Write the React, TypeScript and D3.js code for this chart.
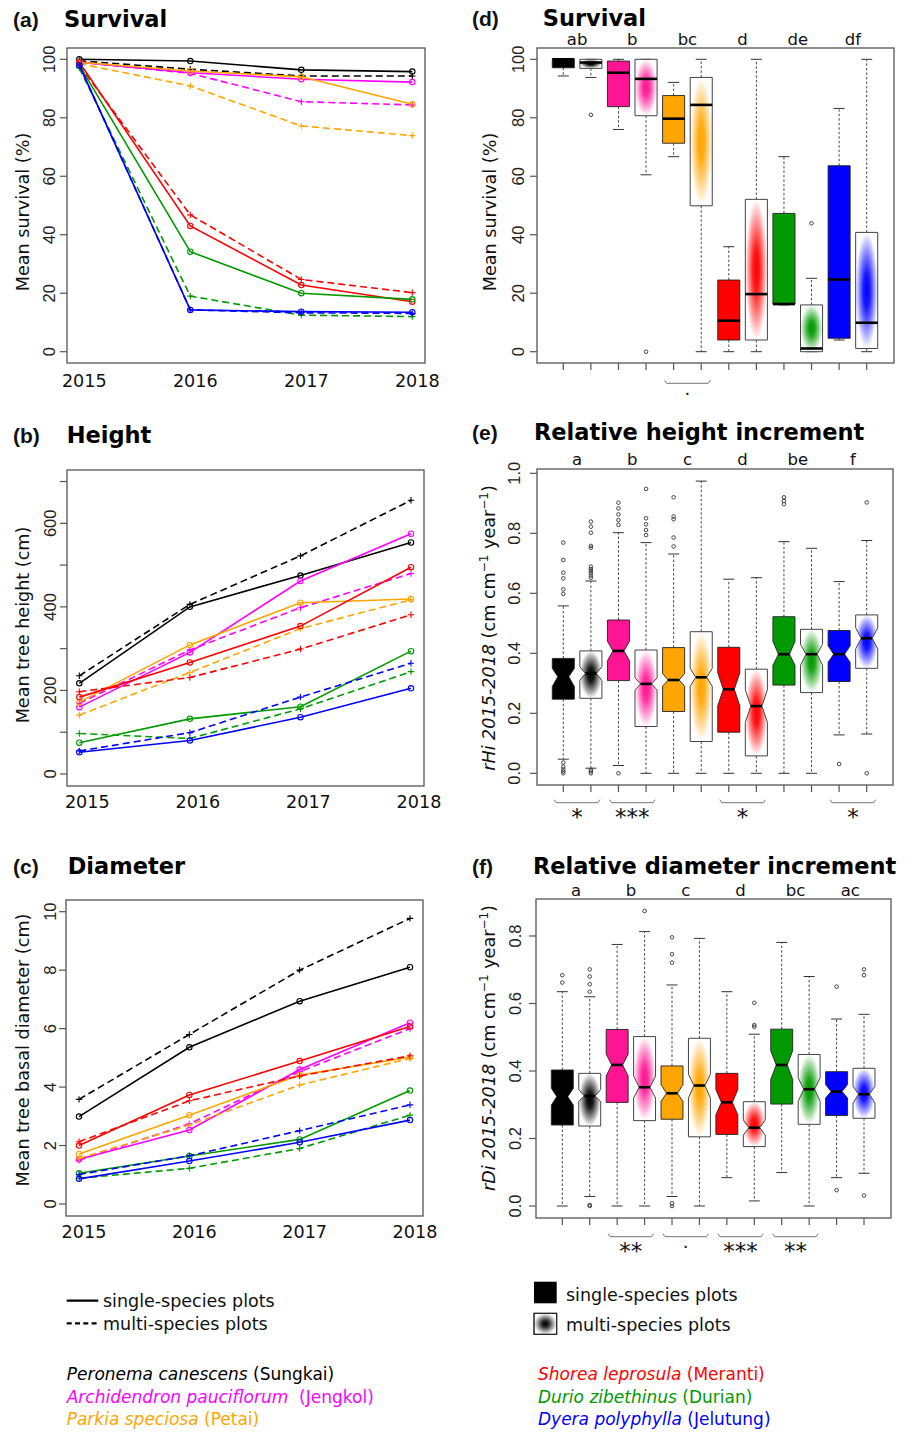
import React from "react";
import * as d3 from "d3";

// ---------------- DATA ----------------
const years = [2015, 2016, 2017, 2018];
const speciesLatin = ["Peronema canescens", "Archidendron pauciflorum", "Parkia speciosa", "Shorea leprosula", "Durio zibethinus", "Dyera polyphylla"];
const speciesCommon = [" (Sungkai)", "  (Jengkol)", " (Petai)", " (Meranti)", " (Durian)", " (Jelutung)"];
const lineColors = ["#000000", "#FF00FF", "#FFA500", "#FF0000", "#009900", "#0000FF"];
const boxColors = ["#000000", "#FF1493", "#FFA500", "#FF0000", "#009900", "#0000FF"];

// (a) survival %, per species, years 2015-2018
const survivalSingle = [
  [100, 99.4, 96.4, 95.8],
  [99, 95.4, 93.2, 92.2],
  [99, 96, 94, 84.6],
  [99, 43, 22.8, 17.1],
  [98, 34.2, 20, 17.9],
  [98, 14.3, 13.7, 13.5],
];
const survivalMulti = [
  [99.5, 96.6, 94.3, 94.3],
  [99, 95.2, 85.5, 84.4],
  [98.5, 90.9, 77.2, 73.9],
  [98, 46.8, 24.7, 20.2],
  [97, 19, 12.5, 12],
  [98, 14.3, 13.3, 13.1],
];
// (b) height cm
const heightSingle = [
  [217, 400, 475, 554],
  [160, 291, 462, 575],
  [172, 309, 410, 419],
  [184, 267, 354, 495],
  [75, 132, 161, 294],
  [52, 80, 136, 205],
];
const heightMulti = [
  [235, 406, 522, 655],
  [169, 297, 398, 480],
  [141, 243, 348, 417],
  [197, 231, 299, 381],
  [97, 85, 156, 245],
  [55, 99, 184, 265],
];
// (c) diameter cm
const diameterSingle = [
  [2.99, 5.36, 6.94, 8.1],
  [1.53, 2.53, 4.6, 6.2],
  [1.71, 3.04, 4.41, 5.02],
  [2.0, 3.73, 4.89, 6.07],
  [1.05, 1.64, 2.21, 3.88],
  [0.86, 1.47, 2.11, 2.87],
];
const diameterMulti = [
  [3.58, 5.8, 8.0, 9.77],
  [1.5, 2.74, 4.53, 6.0],
  [1.56, 2.7, 4.07, 4.98],
  [2.13, 3.53, 4.38, 5.07],
  [0.88, 1.22, 1.9, 3.04],
  [1.01, 1.65, 2.51, 3.39],
];

// box stats: [lowWhisker, q1, median, q3, highWhisker]; order: species x (single, multi)
const survivalBoxes = [
  [94.3, 97.1, 100, 100, 100],
  [93.8, 96.9, 98.9, 100, 100],
  [76, 83.8, 95.4, 99.4, 100],
  [60.5, 80.7, 93.3, 100, 100],
  [66.7, 71.3, 79.7, 87.6, 92.1],
  [0, 49.9, 84.4, 93.8, 100],
  [0, 4, 10.6, 24.5, 35.9],
  [0, 4, 19.7, 52.1, 100],
  [16, 16.3, 16.3, 47.3, 66.7],
  [0, 0, 1.1, 16, 25.1],
  [4, 4.6, 24.7, 63.6, 83.2],
  [0, 1.1, 9.9, 40.8, 100],
];
const survivalOutliers = [[], [81], [], [0], [], [], [], [], [], [43.9], [], []];

const rhiBoxes = [
  [0.047, 0.247, 0.322, 0.383, 0.558],
  [0.017, 0.25, 0.333, 0.408, 0.641],
  [0.026, 0.309, 0.408, 0.511, 0.802],
  [0, 0.156, 0.298, 0.411, 0.769],
  [0, 0.206, 0.311, 0.419, 0.731],
  [0, 0.106, 0.32, 0.472, 0.974],
  [0, 0.137, 0.28, 0.42, 0.647],
  [0, 0.058, 0.224, 0.347, 0.652],
  [0, 0.294, 0.397, 0.522, 0.772],
  [0, 0.269, 0.397, 0.48, 0.75],
  [0.128, 0.306, 0.397, 0.476, 0.639],
  [0.131, 0.35, 0.45, 0.528, 0.776],
];
const rhiNotches = [
  [0.289, 0.35], [0.31, 0.355], [0.375, 0.44], [0.278, 0.318], [0.29, 0.333], [0.29, 0.35],
  [0.225, 0.335], [0.17, 0.278], [0.36, 0.44], [0.36, 0.43], [0.37, 0.425], [0.415, 0.485],
];
const rhiOutliers = [
  [0.769, 0.711, 0.669, 0.65, 0.613, 0.598, 0.036, 0.022, 0.013, 0.006, 0],
  [0.839, 0.822, 0.802, 0.758, 0.752, 0.689, 0.681, 0.674, 0.667, 0.659, 0.652, 0.011, 0.006, 0],
  [0.902, 0.883, 0.863, 0.844, 0.828, 0],
  [0.948, 0.85, 0.83, 0.811, 0.794],
  [0.92, 0.856, 0.847, 0.786, 0.756],
  [],
  [],
  [],
  [0.92, 0.908, 0.897],
  [],
  [0.031],
  [0.903, 0],
];

const rdiBoxes = [
  [0, 0.24, 0.324, 0.403, 0.635],
  [0.028, 0.237, 0.326, 0.393, 0.62],
  [0, 0.307, 0.418, 0.523, 0.775],
  [0, 0.253, 0.352, 0.502, 0.813],
  [0.028, 0.257, 0.334, 0.415, 0.655],
  [0, 0.205, 0.357, 0.497, 0.793],
  [0.084, 0.212, 0.307, 0.393, 0.635],
  [0.015, 0.176, 0.232, 0.309, 0.509],
  [0.099, 0.302, 0.418, 0.524, 0.781],
  [0, 0.242, 0.346, 0.449, 0.68],
  [0.084, 0.268, 0.339, 0.398, 0.554],
  [0.097, 0.26, 0.331, 0.408, 0.568],
];
const rdiNotches = [
  [0.299, 0.349], [0.31, 0.345], [0.385, 0.45], [0.32, 0.385], [0.31, 0.36], [0.32, 0.39],
  [0.27, 0.345], [0.21, 0.255], [0.375, 0.46], [0.31, 0.38], [0.32, 0.36], [0.305, 0.355],
];
const rdiOutliers = [
  [0.684, 0.662],
  [0.701, 0.68, 0.657, 0.635, 0.003, 0],
  [],
  [0.874],
  [0.796, 0.746, 0.721, 0.008, 0],
  [],
  [],
  [0.602, 0.536, 0.531],
  [],
  [],
  [0.65, 0.047],
  [0.701, 0.684, 0.031],
];

const survivalLetters = ["ab", "b", "bc", "d", "de", "df"];
const heightLetters = ["a", "b", "c", "d", "be", "f"];
const diameterLetters = ["a", "b", "c", "d", "bc", "ac"];

const survivalSig = [{ pair: 2, label: "." }];
const heightSig = [{ pair: 0, label: "*" }, { pair: 1, label: "***" }, { pair: 3, label: "*" }, { pair: 5, label: "*" }];
const diameterSig = [{ pair: 1, label: "**" }, { pair: 2, label: "." }, { pair: 3, label: "***" }, { pair: 4, label: "**" }];

const survivalTicks = [0, 20, 40, 60, 80, 100];
const heightTicks = [0, 100, 200, 300, 400, 500, 600, 700];
const heightTickLabels = [0, 200, 400, 600];
const diameterTicks = [0, 2, 4, 6, 8, 10];
const rhiTicks = [0, 0.2, 0.4, 0.6, 0.8, 1.0];
const rdiTicks = [0, 0.2, 0.4, 0.6, 0.8];

// ---------------- STYLE ----------------
const FONT = "'DejaVu Sans', Verdana, sans-serif";
const NARROW = "'Liberation Sans', Arial, sans-serif";
const FRAME = "#555";

type Frame = { l: number; r: number; t: number; b: number };

function YTitleRHi({ x, y, sym }: { x: number; y: number; sym: string }) {
  return (
    <text transform={`translate(${x},${y}) rotate(-90)`} textAnchor="middle" fontFamily={FONT} fontSize={17.6} fill="#111">
      <tspan fontStyle="italic">{sym} 2015-2018</tspan>
      <tspan> (cm cm</tspan>
      <tspan fontSize={12} dy={-7}>−1</tspan>
      <tspan dy={7}> year</tspan>
      <tspan fontSize={12} dy={-7}>−1</tspan>
      <tspan dy={7}>)</tspan>
    </text>
  );
}

function LinePanel(props: {
  frame: Frame; xRange: [number, number]; yDomain: [number, number]; yRange: [number, number];
  ticks: number[]; tickLabels: number[]; single: number[][]; multi: number[][];
  labelShift: number; labelBaseline: number; tickLabelX: number; yTitle: string; yTitleX: number; yTitleY: number;
}) {
  const { frame: f } = props;
  const x = d3.scaleLinear().domain([2015, 2018]).range(props.xRange);
  const y = d3.scaleLinear().domain(props.yDomain).range(props.yRange);
  const line = d3.line<number>().x((_, i) => x(years[i])).y((v) => y(v));
  return (
    <g>
      <rect x={f.l} y={f.t} width={f.r - f.l} height={f.b - f.t} fill="none" stroke={FRAME} strokeWidth={1.3} />
      {props.ticks.map((t) => (
        <line key={"t" + t} x1={f.l - 7} x2={f.l} y1={y(t)} y2={y(t)} stroke={FRAME} strokeWidth={1.2} />
      ))}
      {props.tickLabels.map((t) => (
        <text key={"l" + t} transform={`translate(${props.tickLabelX},${y(t)}) rotate(-90)`} textAnchor="middle" fontFamily={NARROW} fontSize={16.5} fill="#222">{t}</text>
      ))}
      {years.map((yr) => (
        <text key={yr} x={x(yr) + props.labelShift} y={props.labelBaseline} textAnchor="middle" fontFamily={FONT} fontSize={17.6} fill="#111">{yr}</text>
      ))}
      <text transform={`translate(${props.yTitleX},${props.yTitleY}) rotate(-90)`} textAnchor="middle" fontFamily={FONT} fontSize={17.6} fill="#111">{props.yTitle}</text>
      {props.single.map((s, i) => (
        <g key={"s" + i}>
          <path d={line(props.multi[i]) || ""} fill="none" stroke={lineColors[i]} strokeWidth={1.6} strokeDasharray="7,4" />
          <path d={line(s) || ""} fill="none" stroke={lineColors[i]} strokeWidth={1.6} />
          {s.map((v, j) => (
            <circle key={j} cx={x(years[j])} cy={y(v)} r={2.7} fill="none" stroke={lineColors[i]} strokeWidth={1.1} />
          ))}
          {props.multi[i].map((v, j) => (
            <path key={"p" + j} d={`M${x(years[j]) - 3.2},${y(v)}h6.4M${x(years[j])},${y(v) - 3.2}v6.4`} stroke={lineColors[i]} strokeWidth={1.1} />
          ))}
        </g>
      ))}
    </g>
  );
}

function BoxPanel(props: {
  frame: Frame; xRange: [number, number]; yDomain: [number, number]; yRange: [number, number];
  ticks: number[]; fmt: (v: number) => string; boxes: number[][]; notches?: number[][]; outliers: number[][];
  letters: string[]; letterY: number; sig: { pair: number; label: string }[]; bracketY: number; sigY: number;
  tickLabelX: number; gid: string;
}) {
  const { frame: f } = props;
  const x = d3.scaleLinear().domain([1, 12]).range(props.xRange);
  const y = d3.scaleLinear().domain(props.yDomain).range(props.yRange);
  const step = x(2) - x(1);
  const hw = step * 0.4;
  return (
    <g>
      <defs>
        {boxColors.map((c, i) => (
          <radialGradient key={i} id={`${props.gid}-${i}`} cx="0.5" cy="0.5" r="0.5">
            <stop offset="0" stopColor={c} stopOpacity={1} />
            <stop offset="0.3" stopColor={c} stopOpacity={0.9} />
            <stop offset="0.7" stopColor={c} stopOpacity={0.4} />
            <stop offset="1" stopColor={c} stopOpacity={0} />
          </radialGradient>
        ))}
      </defs>
      <rect x={f.l} y={f.t} width={f.r - f.l} height={f.b - f.t} fill="none" stroke={FRAME} strokeWidth={1.3} />
      {props.ticks.map((t) => (
        <g key={"t" + t}>
          <line x1={f.l - 7} x2={f.l} y1={y(t)} y2={y(t)} stroke={FRAME} strokeWidth={1.2} />
          <text transform={`translate(${props.tickLabelX},${y(t)}) rotate(-90)`} textAnchor="middle" fontFamily={NARROW} fontSize={16.5} fill="#222">{props.fmt(t)}</text>
        </g>
      ))}
      {props.boxes.map((_, i) => (
        <line key={"xt" + i} x1={x(i + 1)} x2={x(i + 1)} y1={f.b} y2={f.b + 7} stroke={FRAME} strokeWidth={1.2} />
      ))}
      {props.boxes.map((s, i) => {
        const cx = x(i + 1);
        const sp = Math.floor(i / 2);
        const multi = i % 2 === 1;
        const [lo, q1, med, q3, hi] = s;
        let d: string;
        let mx = hw;
        if (props.notches) {
          const [c1, c2] = props.notches[i];
          const nf = 0.5;
          const xs = [-1, 1, 1, nf, 1, 1, -1, -1, -nf, -1].map((k) => cx + hw * k);
          const ys = [q1, q1, c1, med, c2, q3, q3, c2, med, c1].map((v) => y(v));
          d = "M" + xs.map((xx, k) => `${xx},${ys[k]}`).join("L") + "Z";
          mx = hw * nf;
        } else {
          d = `M${cx - hw},${y(q1)}H${cx + hw}V${y(q3)}H${cx - hw}Z`;
        }
        return (
          <g key={"b" + i}>
            <line x1={cx} x2={cx} y1={y(q3)} y2={y(hi)} stroke="#333" strokeWidth={0.9} strokeDasharray="2.5,2" />
            <line x1={cx} x2={cx} y1={y(q1)} y2={y(lo)} stroke="#333" strokeWidth={0.9} strokeDasharray="2.5,2" />
            <line x1={cx - hw / 2} x2={cx + hw / 2} y1={y(hi)} y2={y(hi)} stroke="#333" strokeWidth={1} />
            <line x1={cx - hw / 2} x2={cx + hw / 2} y1={y(lo)} y2={y(lo)} stroke="#333" strokeWidth={1} />
            {multi ? (
              <>
                <path d={d} fill="#fff" />
                <path d={d} fill={`url(#${props.gid}-${sp})`} stroke="#444" strokeWidth={1} />
              </>
            ) : (
              <path d={d} fill={boxColors[sp]} stroke="#222" strokeWidth={0.9} />
            )}
            <line x1={cx - mx} x2={cx + mx} y1={y(med)} y2={y(med)} stroke="#000" strokeWidth={2.6} />
            {props.outliers[i].map((o, k) => (
              <circle key={k} cx={cx} cy={y(o)} r={1.8} fill="none" stroke="#333" strokeWidth={0.9} />
            ))}
          </g>
        );
      })}
      {props.letters.map((l, k) => (
        <text key={"L" + k} x={(x(2 * k + 1) + x(2 * k + 2)) / 2} y={props.letterY} textAnchor="middle" fontFamily={FONT} fontSize={16.5} fill="#111">{l}</text>
      ))}
      {props.sig.map((s, k) => {
        const x1 = x(2 * s.pair + 1) - 9;
        const x2 = x(2 * s.pair + 2) + 9;
        const by = props.bracketY;
        return (
          <g key={"S" + k}>
            <path d={`M${x1},${by - 3}L${x1 + 2},${by}L${x2 - 2},${by}L${x2},${by - 3}`} fill="none" stroke="#777" strokeWidth={1} />
            <text x={(x1 + x2) / 2} y={s.label === "." ? props.sigY + 2 : props.sigY + 12.5} textAnchor="middle" fontFamily={FONT} fontSize={s.label === "." ? 18 : 23} fill="#111">{s.label}</text>
          </g>
        );
      })}
    </g>
  );
}

function Heading({ x, lx, y, tag, title }: { x: number; lx: number; y: number; tag: string; title: string }) {
  return (
    <g>
      <text x={lx} y={y} fontFamily={NARROW} fontWeight="bold" fontSize={21} fill="#111">{tag}</text>
      <text x={x} y={y} fontFamily={FONT} fontWeight="bold" fontSize={22.5} fill="#000">{title}</text>
    </g>
  );
}

export default function App() {
  const f1 = d3.format(".1f");
  const fi = (v: number) => String(v);
  return (
    <svg width={914} height={1432} style={{ position: "absolute", left: 0, top: 0, background: "#fff" }} xmlns="http://www.w3.org/2000/svg">
      <rect width={914} height={1432} fill="#fff" />
      <defs>
        <radialGradient id="legend-grad" cx="0.5" cy="0.5" r="0.5">
          <stop offset="0" stopColor="#000" stopOpacity={1} />
          <stop offset="0.3" stopColor="#000" stopOpacity={0.85} />
          <stop offset="0.7" stopColor="#000" stopOpacity={0.35} />
          <stop offset="1" stopColor="#000" stopOpacity={0} />
        </radialGradient>
      </defs>

      <Heading lx={13} x={64} y={27} tag="(a)" title="Survival" />
      <Heading lx={13} x={66.7} y={443} tag="(b)" title="Height" />
      <Heading lx={13} x={67.7} y={874} tag="(c)" title="Diameter" />
      <Heading lx={472} x={542.7} y={26} tag="(d)" title="Survival" />
      <Heading lx={472} x={534} y={440} tag="(e)" title="Relative height increment" />
      <Heading lx={472} x={533} y={873.5} tag="(f)" title="Relative diameter increment" />

      <LinePanel frame={{ l: 67, r: 425, t: 48, b: 363 }} xRange={[79.3, 412.3]} yDomain={[0, 100]} yRange={[351.7, 59.3]}
        ticks={survivalTicks} tickLabels={survivalTicks} single={survivalSingle} multi={survivalMulti}
        labelShift={5} labelBaseline={386.7} tickLabelX={55} yTitle="Mean survival (%)" yTitleX={29} yTitleY={212} />
      <LinePanel frame={{ l: 67, r: 424, t: 470, b: 786 }} xRange={[79.3, 411]} yDomain={[0, 600]} yRange={[774, 523.3]}
        ticks={heightTicks} tickLabels={heightTickLabels} single={heightSingle} multi={heightMulti}
        labelShift={8} labelBaseline={808.3} tickLabelX={56} yTitle="Mean tree height (cm)" yTitleX={28.5} yTitleY={625} />
      <LinePanel frame={{ l: 66, r: 423, t: 900, b: 1216 }} xRange={[79, 410]} yDomain={[0, 10]} yRange={[1204, 911.7]}
        ticks={diameterTicks} tickLabels={diameterTicks} single={diameterSingle} multi={diameterMulti}
        labelShift={5} labelBaseline={1238} tickLabelX={55.5} yTitle="Mean tree basal diameter (cm)" yTitleX={28.5} yTitleY={1050} />

      <BoxPanel gid="gd" frame={{ l: 537, r: 894, t: 48, b: 363 }} xRange={[563.3, 866.7]} yDomain={[0, 100]} yRange={[351.7, 59.3]}
        ticks={survivalTicks} fmt={fi} boxes={survivalBoxes} outliers={survivalOutliers}
        letters={survivalLetters} letterY={44.5} sig={survivalSig} bracketY={383.3} sigY={392.7} tickLabelX={524} />
      <text transform="translate(496,212) rotate(-90)" textAnchor="middle" fontFamily={FONT} fontSize={17.6} fill="#111">Mean survival (%)</text>

      <BoxPanel gid="ge" frame={{ l: 537, r: 893, t: 469, b: 785 }} xRange={[563.3, 866.7]} yDomain={[0, 1]} yRange={[773.3, 473.3]}
        ticks={rhiTicks} fmt={f1} boxes={rhiBoxes} notches={rhiNotches} outliers={rhiOutliers}
        letters={heightLetters} letterY={465} sig={heightSig} bracketY={802.7} sigY={812.7} tickLabelX={520} />
      <YTitleRHi x={495} y={628} sym="rHi" />

      <BoxPanel gid="gf" frame={{ l: 536, r: 891, t: 899, b: 1218 }} xRange={[562.3, 864]} yDomain={[0, 0.8]} yRange={[1206, 936]}
        ticks={rdiTicks} fmt={f1} boxes={rdiBoxes} notches={rdiNotches} outliers={rdiOutliers}
        letters={diameterLetters} letterY={896} sig={diameterSig} bracketY={1236.7} sigY={1246} tickLabelX={521} />
      <YTitleRHi x={495} y={1048} sym="rDi" />

      {/* line legend */}
      <line x1={66.7} x2={98.3} y1={1300.7} y2={1300.7} stroke="#000" strokeWidth={2.2} />
      <text x={103} y={1306.5} fontFamily={FONT} fontSize={17.5} fill="#111">single-species plots</text>
      <line x1={66.7} x2={98.3} y1={1323.3} y2={1323.3} stroke="#000" strokeWidth={2.2} strokeDasharray="5,3.3" />
      <text x={103} y={1329.5} fontFamily={FONT} fontSize={17.5} fill="#111">multi-species plots</text>

      {/* box legend */}
      <rect x={534} y={1281.7} width={22.7} height={21.6} fill="#000" />
      <text x={566} y={1300.5} fontFamily={FONT} fontSize={17.5} fill="#111">single-species plots</text>
      <rect x={534} y={1313.3} width={22.7} height={21} fill="#fff" stroke="#222" strokeWidth={1} />
      <rect x={534} y={1313.3} width={22.7} height={21} fill="url(#legend-grad)" stroke="#222" strokeWidth={1} />
      <text x={566} y={1331} fontFamily={FONT} fontSize={17.5} fill="#111">multi-species plots</text>

      {/* species legend */}
      {speciesLatin.map((s, i) => {
        const col = Math.floor(i / 3);
        const row = i % 3;
        return (
          <text key={s} x={col === 0 ? 66.7 : 538} y={[1380, 1402.5, 1425][row]} fontFamily={FONT} fontSize={17} fill={lineColors[i]} style={{ whiteSpace: "pre" }}>
            <tspan fontStyle="italic">{s}</tspan>
            <tspan>{speciesCommon[i]}</tspan>
          </text>
        );
      })}
    </svg>
  );
}
